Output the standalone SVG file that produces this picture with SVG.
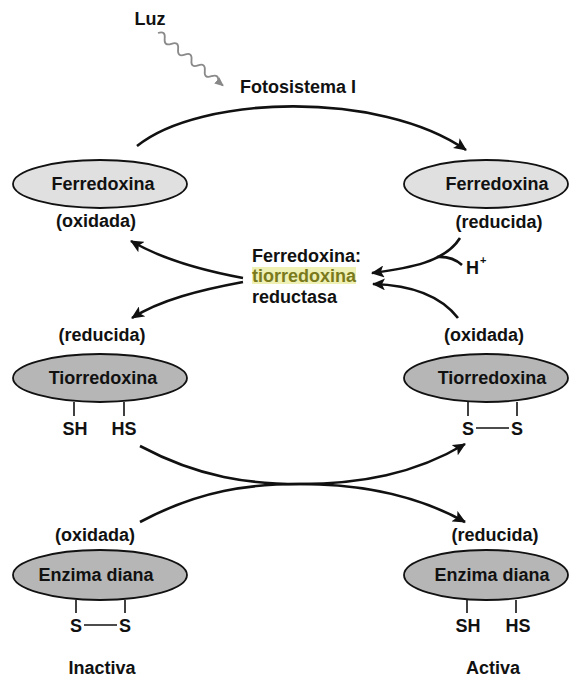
<svg xmlns="http://www.w3.org/2000/svg" width="571" height="682" viewBox="0 0 571 682">
<style>
text{font-family:"Liberation Sans",Arial,sans-serif;font-size:18px;font-weight:bold;fill:#111;text-anchor:middle}
.light{fill:#e0e0e0;stroke:#111;stroke-width:1.8}
.dark{fill:#b6b6b6;stroke:#111;stroke-width:1.8}
.bond{stroke:#111;stroke-width:1.6;fill:none}
.arr{fill:none;stroke:#111;stroke-width:2.6;marker-end:url(#ah)}
.plain{fill:none;stroke:#111;stroke-width:2.6}
</style>
<defs>
<marker id="ah" markerUnits="userSpaceOnUse" markerWidth="14" markerHeight="12" refX="12" refY="6" orient="auto"><path d="M0,0 L13,6 L0,12 L3,6 Z" fill="#111"/></marker>
<marker id="ahg" markerUnits="userSpaceOnUse" markerWidth="10" markerHeight="8" refX="8" refY="4" orient="auto"><path d="M0,0 L9,4 L0,8 Z" fill="#888"/></marker>
</defs>
<rect width="571" height="682" fill="#fff"/>
<g id="light">
<text x="150" y="25">Luz</text>
<path d="M158,33 Q165.7,30.3 164.7,38.4 T171.4,43.8 T178.1,49.2 T184.8,54.6 T191.5,60 T198.1,65.4 T204.8,70.8 T211.5,76.2 T218.2,81.6 L223,85.5" fill="none" stroke="#8a8a8a" stroke-width="1.8" marker-end="url(#ahg)"/>
<text x="298" y="93">Fotosistema I</text>
</g>
<g id="connectors">
<path class="arr" d="M137,146 C200,95 380,90 466,150"/>
<path class="arr" d="M243,278 C200,270 160,258 131,241"/>
<path class="arr" d="M243,282 C200,290 160,300 132,318"/>
<path class="arr" d="M460,238 C445,262 410,268 372,273"/>
<path class="plain" d="M437,257 Q452,256 462,265"/>
<path class="arr" d="M458,318 C440,295 410,285 373,284"/>
<path class="arr" d="M140,446 C200,478 250,484 300,484 C360,484 415,494 465,522"/>
<path class="arr" d="M140,522 C200,490 250,484 300,484 C360,484 415,474 465,444"/>
</g>
<g id="fer-ox">
<ellipse class="light" cx="100" cy="184" rx="87" ry="24"/>
<text x="103" y="190">Ferredoxina</text>
<text x="96" y="227">(oxidada)</text>
</g>
<g id="fer-red">
<ellipse class="light" cx="486" cy="184" rx="82" ry="24"/>
<text x="497" y="190">Ferredoxina</text>
<text x="499" y="228">(reducida)</text>
</g>
<g id="ftr">
<rect x="252" y="267" width="104" height="17" fill="#eef0b4"/>
<text x="252" y="262" style="text-anchor:start">Ferredoxina:</text>
<text x="252" y="282" style="text-anchor:start;fill:#7a7a1c">tiorredoxina</text>
<text x="252" y="303" style="text-anchor:start">reductasa</text>
<text x="466" y="274" style="text-anchor:start">H</text>
<text x="480" y="264" style="text-anchor:start;font-size:11px">+</text>
</g>
<g id="tio-red">
<text x="102" y="341">(reducida)</text>
<ellipse class="dark" cx="100" cy="378" rx="87" ry="24"/>
<text x="103" y="384">Tiorredoxina</text>
<line class="bond" x1="74" y1="402" x2="74" y2="416"/>
<line class="bond" x1="124" y1="402" x2="124" y2="416"/>
<text x="75" y="435">SH</text>
<text x="124" y="435">HS</text>
</g>
<g id="tio-ox">
<text x="484" y="341">(oxidada)</text>
<ellipse class="dark" cx="486" cy="378" rx="82" ry="24"/>
<text x="492" y="384">Tiorredoxina</text>
<line class="bond" x1="468" y1="402" x2="468" y2="416"/>
<line class="bond" x1="517" y1="402" x2="517" y2="416"/>
<text x="468" y="435">S</text>
<text x="517" y="435">S</text>
<line class="bond" x1="476" y1="428" x2="509" y2="428"/>
</g>
<g id="enz-ox">
<text x="95" y="541">(oxidada)</text>
<ellipse class="dark" cx="100" cy="575" rx="87" ry="25"/>
<text x="96" y="581">Enzima diana</text>
<line class="bond" x1="76" y1="600" x2="76" y2="613"/>
<line class="bond" x1="125" y1="600" x2="125" y2="613"/>
<text x="76" y="632">S</text>
<text x="125" y="632">S</text>
<line class="bond" x1="84" y1="625" x2="117" y2="625"/>
<text x="102" y="674">Inactiva</text>
</g>
<g id="enz-red">
<text x="495" y="541">(reducida)</text>
<ellipse class="dark" cx="486" cy="575" rx="82" ry="25"/>
<text x="492" y="581">Enzima diana</text>
<line class="bond" x1="467" y1="600" x2="467" y2="613"/>
<line class="bond" x1="516" y1="600" x2="516" y2="613"/>
<text x="468" y="632">SH</text>
<text x="518" y="632">HS</text>
<text x="493" y="674">Activa</text>
</g>
</svg>
